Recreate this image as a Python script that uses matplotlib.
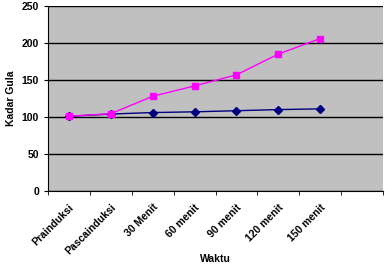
import matplotlib.pyplot as plt
import numpy as np

plt.rcParams['font.family'] = ['Liberation Sans', 'DejaVu Sans']

waktu = ['Prainduksi', 'Pascainduksi', '30 Menit', '60 menit', '90 menit',
         '120 menit', '150 menit', '']
kontrol = [101, 104, 106, 107, 108.5, 110, 111]
perlakuan = [101, 104.5, 128, 142, 157, 185, 206]

fig = plt.figure(figsize=(3.85, 2.74), dpi=100)
ax = fig.add_axes([48 / 385, 1 - 191 / 274, 335 / 385, 185 / 274])
ax.set_facecolor('#c0c0c0')

x = np.arange(len(kontrol))
ax.plot(x, kontrol, color='#000080', marker='D', markersize=4, lw=1, zorder=3)
ax.plot(x, perlakuan, color='#ff00ff', marker='s', markersize=5, lw=1, zorder=4)

ax.set_xlim(-0.5, len(waktu) - 0.5)
ax.set_ylim(0, 250)
ax.set_yticks(range(0, 251, 50))
ax.grid(axis='y', color='black', lw=1)
ax.set_axisbelow(True)

ax.set_xticks(np.arange(len(waktu)))
ax.set_xticklabels(waktu, rotation=45, ha='right', rotation_mode='anchor',
                   fontsize=7.5, fontweight='bold')
ax.set_xticks(np.arange(len(waktu) + 1) - 0.5, minor=True)
ax.tick_params(axis='x', which='major', length=0, pad=8)
ax.tick_params(axis='x', which='minor', length=3, color='black')
ax.tick_params(axis='y', length=3, labelsize=7.5)
for t in ax.get_yticklabels():
    t.set_fontweight('bold')

for s in ['top', 'right']:
    ax.spines[s].set_visible(False)
ax.spines['left'].set_color('black')
ax.spines['bottom'].set_color('black')

ax.set_xlabel('Waktu', fontsize=7.5, fontweight='bold', labelpad=-2)
ax.set_ylabel('Kadar Gula', fontsize=7.5, fontweight='bold', labelpad=4)

fig.savefig('out.png', dpi=100)
